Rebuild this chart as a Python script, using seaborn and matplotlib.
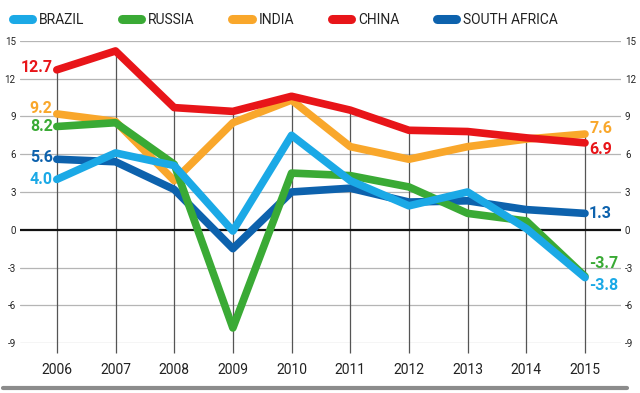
import matplotlib
matplotlib.use("Agg")
import matplotlib.pyplot as plt
import seaborn as sns
import pandas as pd
from matplotlib.lines import Line2D

# GDP growth (%) of BRICS countries
years = [2006, 2007, 2008, 2009, 2010, 2011, 2012, 2013, 2014, 2015]
brazil = [4.0, 6.1, 5.1, -0.1, 7.5, 3.9, 1.9, 3.0, 0.1, -3.8]
russia = [8.2, 8.5, 5.2, -7.8, 4.5, 4.3, 3.4, 1.3, 0.7, -3.7]
india = [9.2, 8.6, 3.9, 8.5, 10.3, 6.6, 5.6, 6.6, 7.2, 7.6]
china = [12.7, 14.2, 9.7, 9.4, 10.6, 9.5, 7.9, 7.8, 7.3, 6.9]
south_africa = [5.6, 5.4, 3.2, -1.5, 3.0, 3.3, 2.2, 2.3, 1.6, 1.3]

countries = ["BRAZIL", "RUSSIA", "INDIA", "CHINA", "SOUTH AFRICA"]
yticks = [-9, -6, -3, 0, 3, 6, 9, 12, 15]

colors = {
    "BRAZIL": "#1ba9e6",
    "RUSSIA": "#3aaa35",
    "INDIA": "#f9a72b",
    "CHINA": "#e81519",
    "SOUTH AFRICA": "#0d62ad",
}
# label nudges (points) so end labels don't collide
start_nudge = {"BRAZIL": 0, "RUSSIA": 0, "INDIA": 4, "CHINA": 2, "SOUTH AFRICA": 1}
end_nudge = {"BRAZIL": -6, "RUSSIA": 9, "INDIA": 4, "CHINA": -5, "SOUTH AFRICA": 0}
draw_order = ["INDIA", "CHINA", "SOUTH AFRICA", "RUSSIA", "BRAZIL"]

series = {"BRAZIL": brazil, "RUSSIA": russia, "INDIA": india,
          "CHINA": china, "SOUTH AFRICA": south_africa}
df = pd.DataFrame([
    {"Year": y, "Country": c, "Growth": v}
    for c in countries for y, v in zip(years, series[c])
])

sns.set_style("white")
plt.rcParams["font.family"] = ["Roboto", "DejaVu Sans"]

fig = plt.figure(figsize=(6.4, 3.93), dpi=100)
ax = fig.add_axes([0.031, 0.127, 0.939, 0.769])

# horizontal grid
for t in yticks:
    if t == 0:
        ax.axhline(0, color="#111111", lw=1.6, zorder=1)
    else:
        ax.axhline(t, color="#b5b5b5", lw=0.9, zorder=0)

# vertical drop lines from the highest value each year
top = df.groupby("Year")["Growth"].max()
ax.vlines(top.index, -9.8, top.values, color="#555555", lw=0.9, zorder=0.5,
          clip_on=False)

for i, c in enumerate(draw_order):
    sub = df[df["Country"] == c]
    sns.lineplot(data=sub, x="Year", y="Growth", ax=ax, color=colors[c],
                 lw=5.5, solid_capstyle="round", solid_joinstyle="round",
                 zorder=3 + i, legend=False)

# end labels
for c in countries:
    vals = series[c]
    ax.annotate(f"{vals[0]:.1f}", (years[0], vals[0]), xytext=(-3, start_nudge[c]),
                textcoords="offset points", ha="right", va="center",
                fontsize=11.5, fontweight="bold", color=colors[c])
    ax.annotate(f"{vals[-1]:.1f}", (years[-1], vals[-1]), xytext=(3, end_nudge[c]),
                textcoords="offset points", ha="left", va="center",
                fontsize=11.5, fontweight="bold", color=colors[c])

ax.set_xlim(2005.37, 2015.61)
ax.set_ylim(-9, 15)
ax.set_xticks(years)
ax.set_xticklabels([str(y) for y in years], fontsize=10, color="#222222")
ax.set_yticks(yticks)
ax.set_yticklabels([str(t) for t in yticks], fontsize=7, color="#222222")
ax.tick_params(axis="y", length=0, pad=3, labelleft=True, labelright=True)
ax.tick_params(axis="x", length=0, pad=14)
ax.set_xlabel("")
ax.set_ylabel("")
for s in ax.spines.values():
    s.set_visible(False)

handles = [Line2D([0], [0], color=colors[c], lw=6.5, solid_capstyle="round")
           for c in countries]
fig.legend(handles, countries, loc="upper left", bbox_to_anchor=(0.0, 1.0),
           ncol=5, frameon=False, fontsize=10, handlelength=1.4,
           handletextpad=0.5, columnspacing=2.7, labelcolor="#222222")

# grey rule at the bottom
fig.add_artist(Line2D([0.005, 0.98], [0.012, 0.012], color="#8c8c8c", lw=3,
                      transform=fig.transFigure))

plt.savefig("out.png", dpi=100)
plt.close()
